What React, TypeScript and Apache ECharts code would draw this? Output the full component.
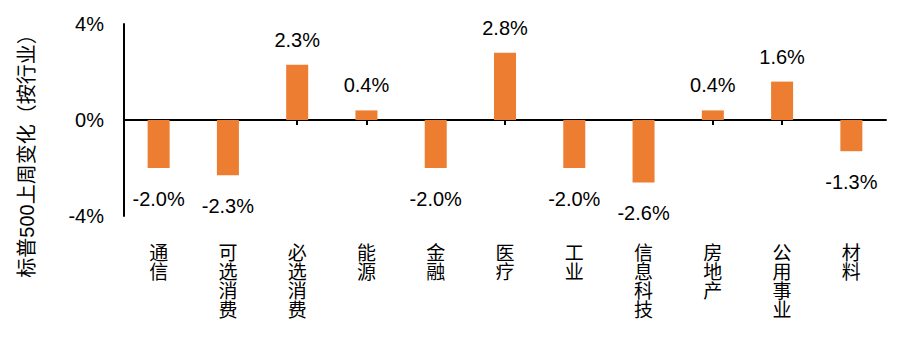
import React, { useEffect, useRef } from "react";
import * as echarts from "echarts";

const categories = ["通信", "可选消费", "必选消费", "能源", "金融", "医疗", "工业", "信息科技", "房地产", "公用事业", "材料"];
const weeklyChange = [-2.0, -2.3, 2.3, 0.4, -2.0, 2.8, -2.0, -2.6, 0.4, 1.6, -1.3];
const yTicks = { min: -4, max: 4, interval: 4 };
const yTitle = "标普500上周变化（按行业）";

const FONT = "'Liberation Sans', 'Noto Sans CJK SC', sans-serif";

export default function App() {
  const ref = useRef<HTMLDivElement>(null);
  useEffect(() => {
    if (!ref.current) return;
    const chart = echarts.init(ref.current, null, { renderer: "svg" });
    chart.setOption({
      animation: false,
      textStyle: { fontFamily: FONT, color: "#000" },
      grid: { left: 116, right: 9, top: 16, bottom: 118, containLabel: false },
      graphic: [
        {
          type: "text",
          x: 19,
          y: 143,
          rotation: Math.PI / 2,
          style: {
            text: yTitle,
            fontSize: 20,
            fontFamily: FONT,
            fill: "#000",
            textAlign: "center",
            textVerticalAlign: "middle",
          },
        },
      ],
      xAxis: [
        {
          type: "category",
          data: categories,
          axisLine: { onZero: true, lineStyle: { color: "#000", width: 2 } },
          axisTick: { show: true, alignWithLabel: true, length: 5, lineStyle: { color: "#000", width: 2 } },
          axisLabel: { show: false },
        },
        {
          type: "category",
          data: categories,
          position: "bottom",
          axisLine: { show: false, onZero: false },
          axisTick: { show: false },
          axisLabel: {
            show: true,
            interval: 0,
            margin: 28,
            fontSize: 19,
            lineHeight: 19,
            color: "#000",
            fontFamily: FONT,
            formatter: (v: string) => v.split("").join("\n"),
          },
        },
      ],
      yAxis: {
        type: "value",
        min: yTicks.min,
        max: yTicks.max,
        interval: yTicks.interval,
        axisLine: { show: true, lineStyle: { color: "#000", width: 2 } },
        axisTick: { show: false },
        splitLine: { show: false },
        axisLabel: { fontSize: 20, color: "#000", margin: 20, formatter: (v: number) => `${v}%` },
      },
      series: [
        {
          type: "bar",
          xAxisIndex: 0,
          barWidth: 22,
          itemStyle: { color: "#ED7D31" },
          data: weeklyChange.map((v) => ({
            value: v,
            label: {
              show: true,
              position: v >= 0 ? "top" : "bottom",
              distance: v >= 0 ? 15 : 21,
              fontSize: 20,
              color: "#000",
              fontFamily: FONT,
              formatter: (p: any) => `${Number(p.value).toFixed(1)}%`,
            },
          })),
          z: 1,
        },
      ],
    });
    return () => chart.dispose();
  }, []);
  return <div ref={ref} style={{ width: 887, height: 326 }} />;
}
